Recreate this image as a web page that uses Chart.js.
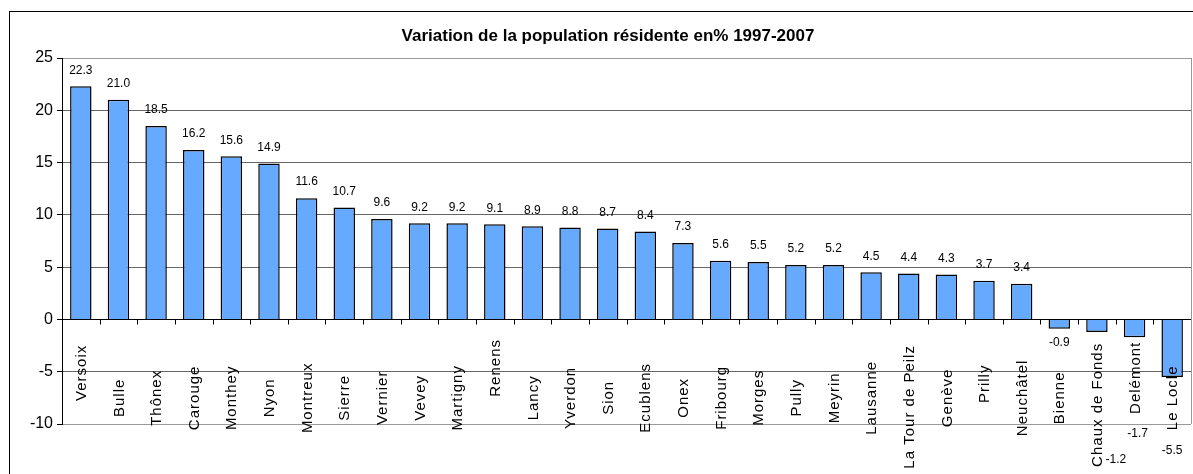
<!DOCTYPE html>
<html>
<head>
<meta charset="utf-8">
<script src="https://cdn.jsdelivr.net/npm/chart.js@4"></script>
<style>
    body { margin: 0; background: #fff; }
    #wrap { width: 1193px; height: 474px; }
</style>
</head>
<body>
<div id="wrap"><canvas id="myChart" width="1193" height="474"></canvas></div>
<script>
const chartTitle = "Variation de la population résidente en% 1997-2007";

const villes = [
    "Versoix", "Bulle", "Thônex", "Carouge", "Monthey", "Nyon", "Montreux", "Sierre",
    "Vernier", "Vevey", "Martigny", "Renens", "Lancy", "Yverdon", "Sion", "Ecublens",
    "Onex", "Fribourg", "Morges", "Pully", "Meyrin", "Lausanne", "La Tour de Peilz",
    "Genève", "Prilly", "Neuchâtel", "Bienne", "Chaux de Fonds", "Delémont", "Le Locle"
];

const variation = [
    22.3, 21.0, 18.5, 16.2, 15.6, 14.9, 11.6, 10.7,
    9.6, 9.2, 9.2, 9.1, 8.9, 8.8, 8.7, 8.4,
    7.3, 5.6, 5.5, 5.2, 5.2, 4.5, 4.4,
    4.3, 3.7, 3.4, -0.9, -1.2, -1.7, -5.5
];

const yTicks = [-10, -5, 0, 5, 10, 15, 20, 25];

const FONT = "'Liberation Sans', Arial, sans-serif";

// excel style decorations: frame, title, category names, value labels
const excelLook = {
    id: "excelLook",
    afterDraw(chart) {
        const ctx = chart.ctx;
        const area = chart.chartArea;
        const x = chart.scales.x;
        const y = chart.scales.y;
        const y0 = Math.round(y.getPixelForValue(0)) + 0.5;
        const step = (area.right - area.left) / villes.length;

        ctx.save();

        // outer frame
        ctx.strokeStyle = "#000";
        ctx.lineWidth = 1;
        ctx.strokeRect(9.5, 11.5, 1200, 500);

        // plot border right
        ctx.strokeStyle = "#999";
        ctx.beginPath();
        ctx.moveTo(Math.round(area.right) + 0.5, area.top);
        ctx.lineTo(Math.round(area.right) + 0.5, area.bottom);
        ctx.stroke();

        // zero axis with ticks between categories
        ctx.strokeStyle = "#000";
        ctx.beginPath();
        ctx.moveTo(area.left, y0);
        ctx.lineTo(area.right, y0);
        for (let i = 1; i < villes.length; i++) {
            const bx = Math.round(area.left + i * step) + 0.5;
            ctx.moveTo(bx, y0);
            ctx.lineTo(bx, y0 + 5);
        }
        ctx.stroke();

        // title
        ctx.fillStyle = "#000";
        ctx.font = "bold 17px " + FONT;
        ctx.textAlign = "center";
        ctx.textBaseline = "middle";
        ctx.fillText(chartTitle, 608, 36);

        // category names, rotated (excel staggers a few of them)
        const nameShift = { 0: -25, 11: -30, 22: 9, 24: -14, 27: 7, 28: -20 };
        ctx.font = "15px " + FONT;
        ctx.letterSpacing = "1px";
        villes.forEach((v, i) => {
            const cx = x.getPixelForValue(i) + 1;
            const cy = y.getPixelForValue(-7.5) + (nameShift[i] || 0);
            ctx.save();
            ctx.translate(cx, cy);
            ctx.rotate(-Math.PI / 2);
            ctx.fillText(v, 0, 0);
            ctx.restore();
        });
        ctx.letterSpacing = "0px";

        // value labels
        const negShift = { 27: [19, 128], 28: [3, 96], 29: [0, 74] };
        ctx.font = "12px " + FONT;
        variation.forEach((val, i) => {
            const bx = x.getPixelForValue(i);
            const by = y.getPixelForValue(val);
            let lx = bx, ly;
            if (val >= 0) {
                ly = by - 16;
            } else if (negShift[i]) {
                lx = bx + negShift[i][0];
                ly = by + negShift[i][1];
            } else {
                ly = by + 14;
            }
            ctx.fillText(val.toFixed(1), lx, ly);
        });

        ctx.restore();
    }
};

const ctx = document.getElementById("myChart").getContext("2d");

const myChart = new Chart(ctx, {
    type: "bar",
    data: {
        labels: villes,
        datasets: [
            {
                label: "Variation",
                data: variation,
                backgroundColor: "#66aaff",
                borderColor: "#000",
                borderWidth: 1.5,
                barPercentage: 0.57,
                categoryPercentage: 1,
            },
        ],
    },
    options: {
        responsive: false,
        animation: false,
        layout: {
            padding: { left: 9, top: 58, right: 2, bottom: 50 },
        },
        plugins: {
            legend: { display: false },
            tooltip: { enabled: false },
        },
        scales: {
            x: {
                display: false,
            },
            y: {
                min: yTicks[0],
                max: yTicks[yTicks.length - 1],
                afterBuildTicks: (scale) => {
                    scale.ticks = yTicks.map(v => ({ value: v }));
                },
                afterFit: (scale) => {
                    scale.width = 53;
                },
                ticks: {
                    color: "#000",
                    padding: 4,
                    font: { family: FONT, size: 16 },
                },
                grid: {
                    color: (c) => {
                        if (c.tick && (c.tick.value === 25 || c.tick.value === -10)) return "#999";
                        return "#666";
                    },
                    tickColor: "#000",
                    tickLength: 5,
                    lineWidth: 1,
                },
                border: {
                    color: "#000",
                    width: 1,
                },
            },
        },
    },
    plugins: [excelLook],
});
</script>
</body>
</html>
